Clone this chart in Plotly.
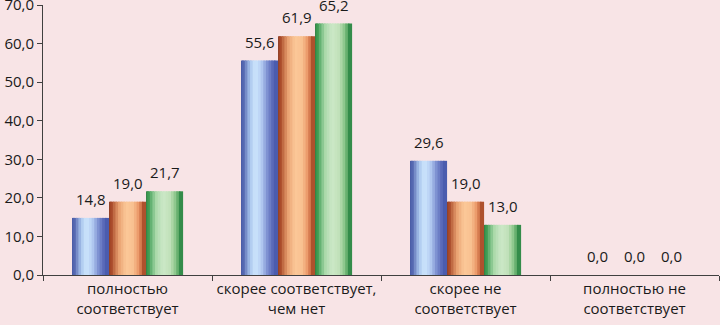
import plotly.graph_objects as go

categories = ["полностью<br>соответствует", "скорее соответствует,<br>чем нет",
              "скорее не<br>соответствует", "полностью не<br>соответствует"]
series_a = [14.8, 55.6, 29.6, 0.0]
series_b = [19.0, 61.9, 19.0, 0.0]
series_c = [21.7, 65.2, 13.0, 0.0]
series_names = ["Ряд 1", "Ряд 2", "Ряд 3"]
y_ticks = [0, 10, 20, 30, 40, 50, 60, 70]

# horizontal gradient stops per series (fraction across bar, colour)
gradients = [
    [(0.0, "#34489a"), (0.12, "#5a6cb4"), (0.28, "#a8c4ec"), (0.42, "#cde6fc"),
     (0.58, "#b8d0f4"), (0.76, "#7c8ed0"), (0.9, "#5868b8"), (1.0, "#4456a8")],
    [(0.0, "#7a2a10"), (0.1, "#a84828"), (0.3, "#e8a070"), (0.5, "#fcc898"),
     (0.7, "#f8c090"), (0.86, "#e89060"), (1.0, "#9a3c1c")],
    [(0.0, "#176a2c"), (0.1, "#3a9a50"), (0.3, "#a8d8a8"), (0.5, "#cce8c8"),
     (0.7, "#c0e0b8"), (0.86, "#80c080"), (1.0, "#1a7a38")],
]

N_STRIPES = 14
BAR_W = 0.219
OFFSETS = [-0.328, -0.109, 0.110]
W, H = 720, 325
M_L, M_R, M_T, M_B = 43, 1, 5, 50
CAT_PX = (W - M_L - M_R) / len(categories)
FONT = "Open Sans"


def hex2rgb(h):
    h = h.lstrip("#")
    return tuple(int(h[i:i + 2], 16) for i in (0, 2, 4))


def interp(stops, t):
    for (t0, c0), (t1, c1) in zip(stops, stops[1:]):
        if t0 <= t <= t1:
            f = 0 if t1 == t0 else (t - t0) / (t1 - t0)
            a, b = hex2rgb(c0), hex2rgb(c1)
            return "rgb(%d,%d,%d)" % tuple(round(a[i] + (b[i] - a[i]) * f) for i in range(3))
    return stops[-1][1]


def fmt(v):
    return ("%.1f" % v).replace(".", ",")


fig = go.Figure()
all_series = [series_a, series_b, series_c]
sw = BAR_W / N_STRIPES
for s, vals in enumerate(all_series):
    for k in range(N_STRIPES):
        t = (k + 0.5) / N_STRIPES
        extra = 0 if k == 0 else sw * 0.6
        fig.add_trace(go.Bar(
            x=categories, y=vals, name=series_names[s], showlegend=False,
            offset=OFFSETS[s] + k * sw - extra, width=sw + extra,
            marker=dict(color=interp(gradients[s], t), line=dict(width=0)),
            hoverinfo="skip"))
    for i, v in enumerate(vals):
        fig.add_annotation(
            x=categories[i], y=v, xref="x", yref="y",
            xshift=(OFFSETS[s] + BAR_W / 2) * CAT_PX, yshift=7,
            yanchor="bottom", xanchor="center", showarrow=False,
            text=fmt(v), font=dict(family=FONT, size=15, color="#1a1a1a"))

fig.update_layout(
    barmode="overlay",
    width=W, height=H,
    margin=dict(l=M_L, r=M_R, t=M_T, b=M_B),
    paper_bgcolor="#f8e4e6", plot_bgcolor="#f8e4e6",
    font=dict(family=FONT, size=15, color="#1a1a1a"),
    showlegend=False,
)
fig.update_xaxes(
    type="category", tickson="boundaries", ticks="outside", ticklen=5,
    tickcolor="#404040", showline=True, linecolor="#404040", linewidth=1,
    showgrid=False, tickfont=dict(size=15), tickangle=0,
    range=[-0.5, 3.5], automargin=False)
fig.update_yaxes(
    range=[0, 70], tickvals=y_ticks, ticktext=[fmt(v) for v in y_ticks],
    ticks="outside", ticklen=5, tickcolor="#404040", showline=True,
    linecolor="#404040", linewidth=1, showgrid=False, zeroline=False,
    tickfont=dict(size=15), automargin=False, ticklabeloverflow="allow")

fig.write_html("out.html", config={"displayModeBar": False},
               post_script="document.body.style.margin='0';document.body.style.background='#f8e4e6';")
